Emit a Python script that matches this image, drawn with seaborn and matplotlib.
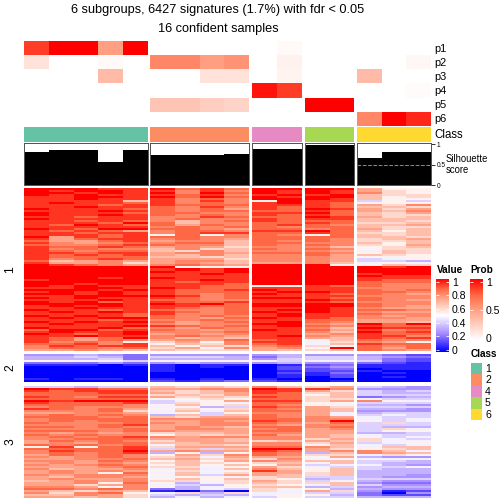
import numpy as np
import matplotlib
matplotlib.use('Agg')
import matplotlib.pyplot as plt
import seaborn as sns
from matplotlib.colors import LinearSegmentedColormap, ListedColormap

plt.rcParams['font.family'] = ['Liberation Sans', 'DejaVu Sans']

# hex digit per cell, value = digit / 15, one string per row, groups split by spaces
slice1 = [
 "fffee fded ff ff b88", "feffe ecec fe fe b98", "ffefe fcfd fe fe c98", "fefee edec ef ef a99",
 "eeffe fdfd fe ff a89", "eefee ecdc ff fe a88", "eeeea ecec 8f ee 686", "efeed ecdc ef ed 888",
 "eeede eddd ee ed b9c", "eefee dcec ed ed aa9", "feeed dcdb ed fe b9b", "eeefe dcdd dd ed bac",
 "feeed ddcc ee fd a9b", "feefe dcdc ed ed a99", "eedee cced dd fe b9a", "feeee cdcc ed ee aaa",
 "eeded cacd ed dd aa9", "eeedf dacc dd ed 99a", "edfed dbdc de dc aab", "eeeee cdcd dc dd a99",
 "fedff ddcb dd cd b9a", "ededb cddc ee fd a8a", "eedee cdee dd ed 99a", "eeede 8d8c dc 8d a9a",
 "fbede ddcc dd dd aa9", "ebdee cdcb dd dc 9ab", "dbbde bcca dc dc 99a", "ecbcd cdda dd cc a8a",
 "dccde dcca dc dc 98b", "edded bcb9 cc ca 89a", "ecdcc ac9a dc dc 899", "edcdd a9ca cc cb 7a9",
 "eedee bccb dd dc 8a9", "edede baca cc db a98", "edddd aa9a cc cb 888", "ecded bbb9 cc cb 678",
 "dabcb bcca cc cb 665", "ebbc9 bcba bb ca 787", "fedcb cdcb ff f8 8a9", "fffff f888 ff ff fef",
 "fffff efef ff ff fff", "fffff feef ff ff fff", "fffff eefe ff ff eff", "fffff eeee ff ff fee",
 "fffef feee ff ff eee", "effff eefe ff ff edd", "fffff edee ff ff ddd", "ffeff eeed ff ff dcc",
 "fefee eedd 88 ed dcc", "eeffe fedd ee ee ccc", "fffef edde fe ee dcd", "efefe eddd ef fe ddc",
 "ffefe edcd fe ed dcb", "eefff fecd ee ee ccc", "fefee edcd ff ed dcc", "eeefe ddcc ee fe dcb",
 "fefde edde ee ed ccc", "ffffe fefd ff ff dcc", "efefe eedd ff ff dcb", "eefee edcd ee fe cbb",
 "feede dccd ef fe ddc", "efefe edcd fe fe cbb", "eeeed eccd ef ee dcc", "fefed dcdc ef ee cbc",
 "efeff dcbd fe ed ccb", "eeede ccdc ee dd bbb", "fefef dbcd ef dc bba", "efeee cbcc ff cb fdf",
 "eeeef edcd ef dc edd", "feefd cbdc ee ca fee", "dffde dcbc fe db ecd", "efeef cccd ee ca fde",
 "fedef bcbc ee bc edd", "eefee cdcb ef cb eec", "edbdf caba ee ba ede", "edbdc bcbd de 8a dcc",
 "ecdc8 9b8c ee 79 cb8", "ddece 8a9c de 7a edd", "cedee a8a9 cd 98 dcd", "cddcd 9b8c bc 8f dbd",
 "bbcba a999 ba 9a dcb",
]
slice2 = [
 "44543 4444 45 44 432", "55653 6665 35 66 543", "55563 5555 46 66 532", "88776 7777 76 77 632",
 "33343 4544 45 44 321", "11101 1011 01 23 111", "00000 1010 02 34 111", "00000 1000 02 23 011",
 "00000 1000 01 22 100", "00000 0000 02 13 010", "00000 0000 01 12 000", "00000 0000 01 02 010",
 "10110 1010 10 00 000", "00000 2123 21 01 000",
]
slice3 = [
 "66566 a9a9 ca 9b 654", "feedd bbcc fe ec 444", "edeee a9ac ee b9 656", "dddee b9ab ed 9a 655",
 "ddddd 9a9b dd 8a 666", "edcee b9a9 ed 9a 345", "ddddd 8898 dd 99 766", "fefff 678b ee 9b c87",
 "eddde 6987 dd 88 666", "ddddc 8a89 dc 87 554", "cdccc 7856 ed b9 666", "edcdb 8989 dc ba 554",
 "cccd9 7a7a dd ba 444", "bbccb 7868 cc b7 566", "cdcdc 5a6a dc b7 676", "dddcd a9bb dc cb 766",
 "cdddd cccc dd cc 767", "cdcdd bbcb ed cf 867", "dcccd cbcc dc bd 696", "cccde bbcc cb cc 666",
 "ddcdc bcba dd cd 655", "ccccd bccb cd bc 697", "dddcd cbbb dd bb 688", "cbcbc 9aab cc bb 556",
 "dcdcc 8a9a db ba 766", "cdcde cbcc cc ba 767", "ccddd bbba cc 9b 976", "bdcdc 9bba 9a ba 977",
 "bcbdd aabb cc 9b 678", "dcdcd 7aa9 cc 8a 767", "8e8de 9bbb dd ca 7aa", "dddde 6a6a ff b9 89a",
 "ceddf bcbb ed bc ca7", "cdcde 5858 dc 5a cba", "bdcdc 8b9c dc 99 798", "cbcdc 9a7b bb 8b 544",
 "bbccd ab9a 9c 77 777", "ccbdc 8a8b cb aa 665", "bcbcb 9a98 9a 8a 655", "cbcdc 8a8a 8b 67 754",
 "bbbcd 9978 b9 76 667", "cabbc 7a7a ca 8a 655", "bcbcb 8978 eb 8a 555", "bcb8d 7a79 bb 9a 555",
 "cbccc 8a6b ba 9a 554", "baccb 7887 9a 66 544", "bcbbc 8a8a 98 56 666", "abcbc 9989 b9 67 544",
 "bbc8d 8579 a9 9a 433", "bb9bc 7658 98 7a 644", "ccb8c 8578 aa 56 455", "ddcdc 3576 98 85 544",
 "ba9ba 1030 97 b9 412", "c9cd8 7959 77 66 304", "aacb9 6565 78 85 322", "bbab9 5757 68 66 555",
]
slice_names = ['1', '2', '3']

group_sizes = [5, 4, 2, 2, 3]
prob = [
 [.85, 1, 1, .5, 1, 0, 0, 0, 0, 0, .03, 0, 0, 0, 0, 0],
 [.15, 0, 0, .03, 0, .6, .6, .5, .55, 0, .07, 0, 0, 0, 0, .04],
 [0, 0, 0, .35, 0, 0, 0, .15, .15, 0, .06, 0, 0, .35, 0, 0],
 [0, 0, 0, 0, 0, 0, 0, 0, 0, .95, .85, 0, 0, 0, 0, .02],
 [0, 0, 0, 0, 0, .3, .3, .25, .22, 0, 0, 1, 1, 0, 0, 0],
 [0, 0, 0, 0, 0, 0, 0, 0, 0, 0, 0, 0, 0, .6, 1, .9],
]
prob_names = ['p1', 'p2', 'p3', 'p4', 'p5', 'p6']
class_names = ['1', '2', '4', '5', '6']
class_colors = ['#66C2A5', '#FC8D62', '#E78AC3', '#A6D854', '#FFD92F']
silhouette = [.80, .85, .85, .56, .85, .73, .73, .73, .77, .88, .88, .97, .97, .66, .80, .80]

value_cmap = LinearSegmentedColormap.from_list('val', [
    (0, '#0000FF'), (.25, '#A78BFF'), (.5, '#FFFFFF'), (.75, '#FF9E81'), (.875, '#FF6440'), (1, '#FF0000')])
prob_cmap = LinearSegmentedColormap.from_list('prob', [
    (0, '#FFFFFF'), (.5, '#FF9E81'), (.75, '#FF6440'), (1, '#FF0000')])


def pax(x0, y0, x1, y1):
    return fig.add_axes([x0 / 504, 1 - y1 / 504, (x1 - x0) / 504, (y1 - y0) / 504])


def to_array(rows):
    return np.array([[int(c, 16) / 15 for c in r.replace(' ', '')] for r in rows])


fig = plt.figure(figsize=(7, 7), dpi=72)

group_x = [(24, 148), (150, 249), (252, 302), (305, 354), (357, 431)]
slice_y = [(188.3, 350.7), (354, 381.7), (385.7, 498.3)]

prob = np.array(prob)
sil = np.array(silhouette)
start = 0
for g, (x0, x1) in enumerate(group_x):
    stop = start + group_sizes[g]
    # probability rows
    ax = pax(x0, 41, x1, 126)
    sns.heatmap(prob[:, start:stop], ax=ax, cmap=prob_cmap, vmin=0, vmax=1, cbar=False,
                xticklabels=False, yticklabels=False)
    # class bar
    ax = pax(x0, 127, x1, 142)
    sns.heatmap(np.full((1, group_sizes[g]), g), ax=ax, cmap=ListedColormap(class_colors),
                vmin=-.5, vmax=4.5, cbar=False, xticklabels=False, yticklabels=False)
    # silhouette bars
    ax = pax(x0, 142.5, x1, 185.3)
    sns.barplot(x=list(range(group_sizes[g])), y=sil[start:stop], color='black', width=1,
                saturation=1, ax=ax)
    ax.set_xlim(-.5, group_sizes[g] - .5)
    ax.set_ylim(0, 1.04)
    ax.set_xticks([])
    ax.set_yticks([])
    ax.set_ylabel('')
    for s in ax.spines.values():
        s.set_color('#555555')
        s.set_linewidth(1)
    if g == 4:
        ax.axhline(.5, color='#888888', ls='--', lw=1)
        ax.yaxis.tick_right()
        ax.set_yticks([0, .5, 1], ['0', '0.5', '1'], fontsize=6.5)
        ax.tick_params(axis='y', length=4, pad=1.5, width=.8)
    # heatmap slices
    for rows, (y0, y1) in zip([slice1, slice2, slice3], slice_y):
        ax = pax(x0, y0, x1, y1)
        sns.heatmap(to_array(rows)[:, start:stop], ax=ax, cmap=value_cmap, vmin=0, vmax=1, cbar=False,
                    xticklabels=False, yticklabels=False)
    start = stop

# labels
fig.text(218 / 504, 1 - 10 / 504, '6 subgroups, 6427 signatures (1.7%) with fdr < 0.05',
         ha='center', va='center', fontsize=12.8)
fig.text(218 / 504, 1 - 29 / 504, '16 confident samples', ha='center', va='center', fontsize=12.8)
for i, name in enumerate(prob_names):
    fig.text(434 / 504, 1 - (49.5 + i * 14) / 504, name, va='center', fontsize=11)
fig.text(434 / 504, 1 - 135 / 504, 'Class', va='center', fontsize=11.5)
fig.text(446 / 504, 1 - 164.5 / 504, 'Silhouette\nscore', va='center', fontsize=9.5, linespacing=1.15)
for name, (y0, y1) in zip(slice_names, slice_y):
    fig.text(10.5 / 504, 1 - (y0 + y1) / 2 / 504, name, rotation=90, ha='center', va='center', fontsize=12)

# colour legends
fig.text(437 / 504, 1 - 270 / 504, 'Value', va='center', fontsize=10, fontweight='bold')
fig.text(470 / 504, 1 - 270 / 504, 'Prob', va='center', fontsize=10, fontweight='bold')
fig.text(471 / 504, 1 - 354 / 504, 'Class', va='center', fontsize=10, fontweight='bold')

cax = pax(436, 279, 449, 351.7)
hidden = pax(0, 0, .01, .01)
sns.heatmap(np.array([[0, 1]]), ax=hidden, cmap=value_cmap, vmin=-.025, vmax=1.04,
            cbar_ax=cax, xticklabels=False, yticklabels=False)
cb = hidden.collections[0].colorbar
hidden.set_visible(False)
cb.set_ticks([0, .2, .4, .6, .8, 1], labels=['0', '0.2', '0.4', '0.6', '0.8', '1'], fontsize=10.5)
cb.ax.tick_params(length=3, color='white', direction='in', pad=3, left=True, right=True)
cb.outline.set_visible(False)

cax2 = pax(470, 279, 483, 340)
hidden2 = pax(0, 0, .01, .01)
sns.heatmap(np.array([[0, 1]]), ax=hidden2, cmap=prob_cmap, vmin=-.04, vmax=1.05,
            cbar_ax=cax2, xticklabels=False, yticklabels=False)
cb2 = hidden2.collections[0].colorbar
hidden2.set_visible(False)
cb2.set_ticks([0, .5, 1], labels=['0', '0.5', '1'], fontsize=10.5)
cb2.ax.tick_params(length=3, color='white', direction='in', pad=3, left=True, right=True)
cb2.outline.set_visible(False)

# class legend
ax = pax(471, 363, 481.5, 420)
sns.heatmap(np.arange(5).reshape(-1, 1), ax=ax, cmap=ListedColormap(class_colors), vmin=-.5, vmax=4.5,
            cbar=False, xticklabels=False, yticklabels=False)
for i, name in enumerate(class_names):
    fig.text(485 / 504, 1 - (369 + i * 11.4) / 504, name, va='center', fontsize=10.5)

fig.savefig('out.png', dpi=72)
